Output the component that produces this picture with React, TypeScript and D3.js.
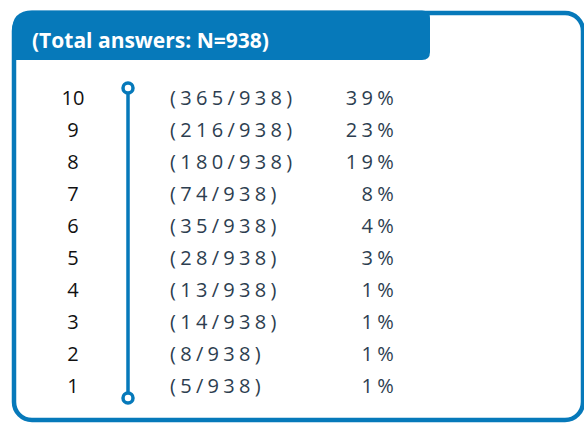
import React from 'react';
import * as d3 from 'd3';

const scores = ['10', '9', '8', '7', '6', '5', '4', '3', '2', '1'];
const counts = [365, 216, 180, 74, 35, 28, 13, 14, 8, 5];
const percents = [39, 23, 19, 8, 4, 3, 1, 1, 1, 1];
const total = 938;

const BLUE = '#0679ba';

const App: React.FC = () => {
  const width = 584;
  const height = 423;

  const y = d3.scalePoint<string>().domain(scores).range([98, 386]);
  const font = '"Open Sans", "Noto Sans", sans-serif';

  return (
    <svg
      width={width}
      height={height}
      style={{ position: 'absolute', left: 0, top: 0, background: '#fff' }}
    >
      {/* outer frame */}
      <rect x={14} y={13} width={569} height={407} rx={18} ry={18} fill="#fff" stroke={BLUE} strokeWidth={4.5} />
      {/* header tab */}
      <path
        d="M12,31 Q12,10.5 32,10.5 L422,10.5 Q430,10.5 430,18 L430,52 Q430,60 422,60 L14,60 Z"
        fill={BLUE}
      />
      <text x={32} y={48} fill="#fff" fontFamily={font} fontWeight={700} fontSize={21}>
        (Total answers: N={total})
      </text>

      {/* scale line */}
      <line x1={128} x2={128} y1={y('10')! - 5} y2={y('1')! + 8} stroke={BLUE} strokeWidth={3.5} />
      <circle cx={128} cy={y('10')! - 10} r={5} fill="#fff" stroke={BLUE} strokeWidth={3.5} />
      <circle cx={128} cy={y('1')! + 12} r={5} fill="#fff" stroke={BLUE} strokeWidth={3.5} />

      {scores.map((s, i) => (
        <g key={s} fontFamily={font} fontSize={20}>
          <text x={73} y={y(s)} dy="0.35em" textAnchor="middle" fill="#111">
            {s}
          </text>
          <text x={170} y={y(s)} dy="0.35em" fill="#2d3e50" letterSpacing={4.3}>
            ({counts[i]}/{total})
          </text>
          <text x={398} y={y(s)} dy="0.35em" textAnchor="end" fill="#2d3e50" letterSpacing={4.3}>
            {percents[i]}%
          </text>
        </g>
      ))}
    </svg>
  );
};

export default App;
